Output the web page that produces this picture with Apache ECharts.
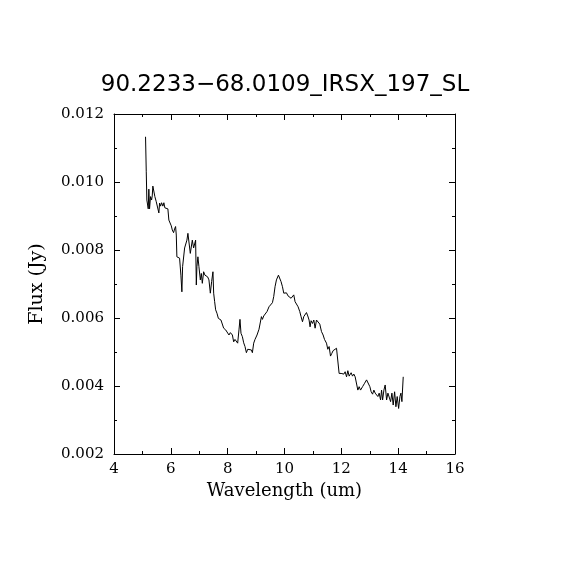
<!DOCTYPE html>
<html>
<head>
    <meta charset="utf-8">
    <title>IRS spectrum</title>
    <script src="https://cdn.jsdelivr.net/npm/echarts@6/dist/echarts.min.js"></script>
    <style>
        html, body { margin: 0; padding: 0; background: #fff; }
    </style>
</head>
<body>
    <div id="main" style="width: 570px;height:570px;"></div>
    <script type="text/javascript">
        // data
        var wavelength = [
            5.110, 5.135, 5.156, 5.205, 5.226, 5.251, 5.286, 5.322, 5.346, 5.367,
            5.403, 5.438, 5.487, 5.544, 5.579, 5.604, 5.639, 5.674, 5.720, 5.755,
            5.790, 5.840, 5.896, 5.931, 5.981, 6.016, 6.051, 6.097, 6.132, 6.167,
            6.192, 6.213, 6.263, 6.308, 6.354, 6.389, 6.414, 6.449, 6.485, 6.520,
            6.566, 6.601, 6.636, 6.661, 6.685, 6.721, 6.756, 6.802, 6.837, 6.872,
            6.897, 6.918, 6.953, 6.989, 7.038, 7.073, 7.108, 7.154, 7.200, 7.249,
            7.295, 7.341, 7.390, 7.436, 7.482, 7.507, 7.542, 7.577, 7.623, 7.672,
            7.718, 7.764, 7.813, 7.859, 7.930, 7.975, 8.046, 8.095, 8.166, 8.211,
            8.257, 8.307, 8.352, 8.398, 8.433, 8.469, 8.518, 8.564, 8.610, 8.659,
            8.705, 8.775, 8.835, 8.870, 8.916, 8.962, 9.033, 9.103, 9.188, 9.223,
            9.269, 9.339, 9.385, 9.455, 9.505, 9.575, 9.621, 9.667, 9.716, 9.787,
            9.833, 9.878, 9.928, 9.974, 10.019, 10.069, 10.125, 10.185, 10.231, 10.280,
            10.326, 10.372, 10.421, 10.478, 10.537, 10.583, 10.633, 10.678, 10.724, 10.773,
            10.819, 10.865, 10.900, 10.936, 10.985, 11.031, 11.077, 11.126, 11.182, 11.242,
            11.302, 11.359, 11.408, 11.478, 11.524, 11.570, 11.619, 11.665, 11.711, 11.771,
            11.831, 11.877, 11.922, 11.993, 12.088, 12.134, 12.183, 12.229, 12.275, 12.345,
            12.394, 12.440, 12.486, 12.535, 12.581, 12.627, 12.676, 12.747, 12.818, 12.888,
            12.958, 13.004, 13.050, 13.099, 13.145, 13.191, 13.240, 13.286, 13.332, 13.381,
            13.416, 13.452, 13.498, 13.543, 13.593, 13.639, 13.684, 13.734, 13.780, 13.825,
            13.875, 13.921, 13.966, 14.016, 14.062, 14.097, 14.132, 14.178
        ];
        var flux = [
            0.01133, 0.01030, 0.00947, 0.00921, 0.00979, 0.00921, 0.00957, 0.00947, 0.00959, 0.00988,
            0.00991, 0.00957, 0.00942, 0.00942, 0.00909, 0.00938, 0.00929, 0.00939, 0.00929, 0.00939,
            0.00924, 0.00921, 0.00921, 0.00888, 0.00888, 0.00871, 0.00859, 0.00851, 0.00862, 0.00869,
            0.00844, 0.00780, 0.00780, 0.00776, 0.00726, 0.00677, 0.00751, 0.00747, 0.00806, 0.00810,
            0.00829, 0.00849, 0.00844, 0.00849, 0.00790, 0.00795, 0.00829, 0.00806, 0.00806, 0.00829,
            0.00697, 0.00751, 0.00780, 0.00751, 0.00712, 0.00731, 0.00702, 0.00736, 0.00726, 0.00731,
            0.00721, 0.00712, 0.00673, 0.00707, 0.00736, 0.00673, 0.00648, 0.00624, 0.00614, 0.00599,
            0.00604, 0.00594, 0.00589, 0.00570, 0.00565, 0.00560, 0.00550, 0.00557, 0.00550, 0.00530,
            0.00537, 0.00535, 0.00526, 0.00565, 0.00596, 0.00555, 0.00545, 0.00527, 0.00516, 0.00498,
            0.00508, 0.00506, 0.00506, 0.00498, 0.00526, 0.00537, 0.00550, 0.00567, 0.00604, 0.00596,
            0.00606, 0.00609, 0.00619, 0.00633, 0.00638, 0.00645, 0.00663, 0.00692, 0.00712, 0.00726,
            0.00724, 0.00707, 0.00692, 0.00673, 0.00677, 0.00674, 0.00665, 0.00668, 0.00658, 0.00663,
            0.00668, 0.00648, 0.00645, 0.00633, 0.00619, 0.00604, 0.00589, 0.00604, 0.00609, 0.00616,
            0.00606, 0.00594, 0.00574, 0.00592, 0.00584, 0.00594, 0.00570, 0.00594, 0.00589, 0.00582,
            0.00560, 0.00550, 0.00537, 0.00526, 0.00508, 0.00516, 0.00488, 0.00496, 0.00504, 0.00508,
            0.00511, 0.00516, 0.00437, 0.00437, 0.00435, 0.00442, 0.00427, 0.00445, 0.00429, 0.00439,
            0.00429, 0.00435, 0.00427, 0.00427, 0.00388, 0.00398, 0.00388, 0.00398, 0.00408, 0.00418,
            0.00416, 0.00398, 0.00383, 0.00376, 0.00388, 0.00379, 0.00380, 0.00369, 0.00379, 0.00359,
            0.00388, 0.00359, 0.00388, 0.00403, 0.00359, 0.00379, 0.00383, 0.00354, 0.00379, 0.00344,
            0.00383, 0.00339, 0.00369, 0.00334, 0.00369, 0.00379, 0.00354, 0.00427
        ];
        var xTicks = [4, 6, 8, 10, 12, 14, 16];
        var yTicks = [0.002, 0.004, 0.006, 0.008, 0.010, 0.012];

        var points = wavelength.map(function (w, i) { return [w, flux[i]]; });

        var serif = 'DejaVu Serif';
        var tick = { show: true, inside: true, length: 6, lineStyle: { color: '#000', width: 1 } };
        var minor = { show: true, splitNumber: 2, length: 3, lineStyle: { color: '#000', width: 1 } };

        var myChart = echarts.init(document.getElementById('main'));

        var option = {
            backgroundColor: '#fff',
            animation: false,
            title: {
                text: '90.2233\u221268.0109_IRSX_197_SL',
                left: 'center',
                top: 69,
                textStyle: { fontFamily: 'DejaVu Sans', fontWeight: 'normal', fontSize: 23, color: '#000' }
            },
            grid: { left: 114, right: 115, top: 114, bottom: 116 },
            xAxis: [{
                type: 'value',
                min: xTicks[0],
                max: xTicks[xTicks.length - 1],
                interval: 2,
                name: 'Wavelength (um)',
                nameLocation: 'middle',
                nameGap: 25,
                nameTextStyle: { fontFamily: serif, fontSize: 18, color: '#000' },
                axisLine: { show: true, lineStyle: { color: '#000', width: 1 } },
                axisTick: tick,
                minorTick: minor,
                splitLine: { show: false },
                axisLabel: { fontFamily: serif, fontSize: 15, color: '#000', margin: 8 }
            }, {
                type: 'value',
                position: 'top',
                min: xTicks[0],
                max: xTicks[xTicks.length - 1],
                interval: 2,
                axisLine: { show: true, lineStyle: { color: '#000', width: 1 } },
                axisTick: tick,
                minorTick: minor,
                splitLine: { show: false },
                axisLabel: { show: false }
            }],
            yAxis: [{
                type: 'value',
                min: yTicks[0],
                max: yTicks[yTicks.length - 1],
                interval: 0.002,
                name: 'Flux (Jy)',
                nameLocation: 'middle',
                nameGap: 67,
                nameTextStyle: { fontFamily: serif, fontSize: 19, color: '#000' },
                axisLine: { show: true, lineStyle: { color: '#000', width: 1 } },
                axisTick: tick,
                minorTick: minor,
                splitLine: { show: false },
                axisLabel: {
                    fontFamily: serif, fontSize: 15, color: '#000', margin: 10,
                    formatter: function (v) { return v.toFixed(3); }
                }
            }, {
                type: 'value',
                position: 'right',
                min: yTicks[0],
                max: yTicks[yTicks.length - 1],
                interval: 0.002,
                axisLine: { show: true, lineStyle: { color: '#000', width: 1 } },
                axisTick: tick,
                minorTick: minor,
                splitLine: { show: false },
                axisLabel: { show: false }
            }],
            series: [{
                type: 'line',
                data: points,
                showSymbol: false,
                smooth: false,
                lineStyle: { color: '#000', width: 1 }
            }]
        };

        myChart.setOption(option);
    </script>
</body>
</html>
